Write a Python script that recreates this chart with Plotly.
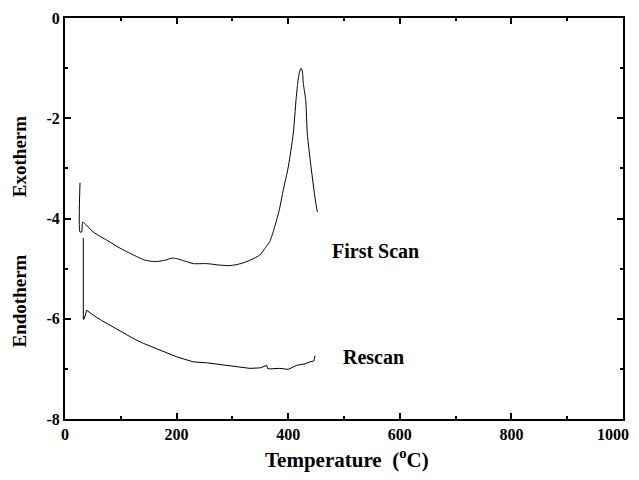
import plotly.graph_objects as go

# First scan (temperature in °C, heat flow)
first_t = [26.9, 26.9, 29.9, 31.7, 40, 50.7, 65, 80.6, 95, 110.6, 125, 140.3, 152, 164.3,
           180, 192, 200.2, 212, 229.9, 253.9, 277.8, 296, 315, 332, 349, 358, 367, 374.6,
           384, 391.2, 400.2, 409.1, 414, 417, 420.2, 423, 425.6, 427, 431.4, 434.2,
           440.9, 448.6, 452.2]
first_y = [-3.29, -4.27, -4.27, -4.07, -4.15, -4.27, -4.37, -4.47, -4.57, -4.66, -4.74, -4.82,
           -4.85, -4.86, -4.83, -4.79, -4.80, -4.84, -4.90, -4.90, -4.93, -4.94, -4.90, -4.83,
           -4.73, -4.60, -4.46, -4.21, -3.83, -3.43, -2.97, -2.30, -1.64, -1.30, -1.08, -1.00,
           -1.08, -1.30, -1.64, -2.30, -2.97, -3.63, -3.87]

# Rescan
re_t = [32.8, 32.8, 34.1, 38.9, 50.7, 65, 80.6, 95, 110.6, 125, 140.3, 155, 170.3, 185,
        200.2, 215, 229.9, 255, 277.8, 301.6, 331.5, 350, 361.5, 363, 367, 385, 400, 415,
        430, 439, 446, 448]
re_y = [-4.39, -6.01, -6.01, -5.83, -5.93, -6.03, -6.13, -6.23, -6.33, -6.41, -6.49, -6.56,
        -6.63, -6.70, -6.76, -6.81, -6.86, -6.88, -6.91, -6.95, -6.99, -6.98, -6.93, -6.99,
        -7.00, -6.99, -7.01, -6.93, -6.90, -6.86, -6.84, -6.74]

x_ticks = [0, 200, 400, 600, 800, 1000]
x_tick_labels = ["0", "200", "400", "600", "800", "1000"]
y_ticks = [-8, -6, -4, -2, 0]

font_family = "Liberation Serif, Times New Roman, serif"

fig = go.Figure()
fig.add_trace(go.Scatter(x=first_t, y=first_y, mode="lines", line_shape="spline",
                         line=dict(color="black", width=1, smoothing=0.6), showlegend=False))
fig.add_trace(go.Scatter(x=re_t, y=re_y, mode="lines",
                         line=dict(color="black", width=1), showlegend=False))

axis_common = dict(showgrid=False, zeroline=False, showline=True, linecolor="black",
                   linewidth=2, mirror="allticks", ticks="inside", ticklen=6, tickwidth=1.5,
                   tickcolor="black", automargin=False, ticklabeloverflow="allow",
                   tickfont=dict(family=font_family, size=16, color="black"))

xt = [f"<b>{t}</b>" for t in x_tick_labels]
xt[-1] = xt[-1] + "&nbsp;" * 5
fig.update_xaxes(range=[0, 1000], tickvals=x_ticks, ticktext=xt,
                 minor=dict(dtick=100, ticks="inside", ticklen=3, tickcolor="black"),
                 **axis_common)
fig.update_yaxes(range=[-8, 0], tickvals=y_ticks,
                 ticktext=[f"<b>{v}</b>" for v in y_ticks],
                 minor=dict(dtick=1, ticks="inside", ticklen=3, tickcolor="black"),
                 **axis_common)

lab_font = dict(family=font_family, size=19, color="black")
fig.add_annotation(text="<b>Exotherm</b>", xref="paper", yref="paper", x=-0.081, y=0.655,
                   textangle=-90, showarrow=False, font=lab_font,
                   xanchor="center", yanchor="middle")
fig.add_annotation(text="<b>Endotherm</b>", xref="paper", yref="paper", x=-0.081, y=0.295,
                   textangle=-90, showarrow=False, font=lab_font,
                   xanchor="center", yanchor="middle")
fig.add_annotation(text="<b>First Scan</b>", x=475, y=-4.65, showarrow=False,
                   font=dict(family=font_family, size=20, color="black"), xanchor="left")
fig.add_annotation(text="<b>Rescan</b>", x=494, y=-6.77, showarrow=False,
                   font=dict(family=font_family, size=20, color="black"), xanchor="left")
fig.add_annotation(text="<b>Temperature  (<sup>o</sup>C)</b>", xref="paper", yref="paper",
                   x=0.505, y=-0.06, yanchor="top", showarrow=False,
                   font=dict(family=font_family, size=21, color="black"))

fig.update_layout(width=631, height=472, margin=dict(l=57, r=16, t=10, b=61),
                  plot_bgcolor="white", paper_bgcolor="white")

fig.write_html("out.html")
